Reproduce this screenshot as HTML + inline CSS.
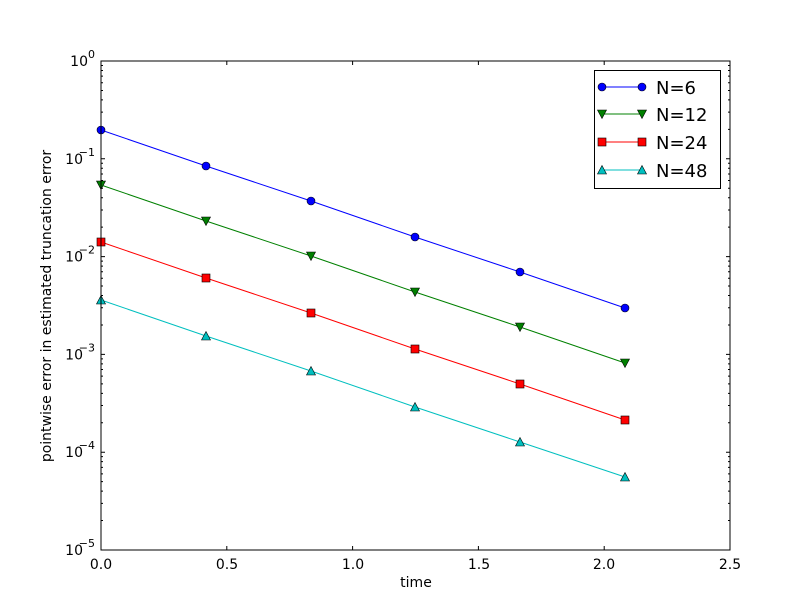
<!DOCTYPE html>
<html><head><meta charset="utf-8"><style>body{margin:0;background:#fff}svg{display:block}text{font-family:"DejaVu Sans","Liberation Sans",sans-serif;fill:#000}</style></head>
<body>
<svg id="s" width="812" height="612" viewBox="0 0 812 612" xmlns="http://www.w3.org/2000/svg">
<rect width="812" height="612" fill="#fff"/>
<g id="ticks" stroke="#000" stroke-width="1" fill="none"></g>
<g font-size="14" text-anchor="middle">
<text x="101" y="569">0.0</text><text x="227" y="569">0.5</text><text x="353" y="569">1.0</text><text x="479" y="569">1.5</text><text x="604" y="569">2.0</text><text x="730" y="569">2.5</text>
<text x="416" y="587">time</text>
</g>
<g font-size="14" id="ylab"></g>
<text font-size="14" transform="translate(51,306) rotate(-90)" text-anchor="middle">pointwise error in estimated truncation error</text>
<g fill="none" stroke-width="1">
<polyline stroke="#0000ff" points="101,130 206,166 311,201 415,237 520,272 625,308"/>
<polyline stroke="#008000" points="101,185 206,221 311,256 415,292 520,327 625,363"/>
<polyline stroke="#ff0000" points="101,242 206,278 311,313 415,349 520,384 625,420"/>
<polyline stroke="#00bfbf" points="101,300 206,336 311,371 415,407 520,442 625,477"/>
</g>
<g id="mk" stroke="#000" stroke-width="0.6"></g>
<rect x="101" y="61" width="629" height="489" fill="none" stroke="#000"/>
<rect x="594.5" y="70.5" width="126" height="118" fill="#fff" stroke="#000"/>
<g stroke-width="1"><line x1="602" y1="87" x2="642" y2="87" stroke="#0000ff"/><line x1="602" y1="114" x2="642" y2="114" stroke="#008000"/><line x1="602" y1="142" x2="642" y2="142" stroke="#ff0000"/><line x1="602" y1="170" x2="642" y2="170" stroke="#00bfbf"/></g>
<g id="lmk" stroke="#000" stroke-width="0.6"></g>
<g font-size="18"><text x="656" y="94">N=6</text><text x="656" y="121">N=12</text><text x="656" y="149">N=24</text><text x="656" y="177">N=48</text></g>
</svg>
<script>
var NS="http://www.w3.org/2000/svg";
function el(p,t,a,txt){var e=document.createElementNS(NS,t);for(var k in a)e.setAttribute(k,a[k]);if(txt!=null)e.textContent=txt;p.appendChild(e);return e;}
var T=document.getElementById('ticks'),d="";
var X0=101,X1=730,Y0=61,Y1=550,dec=(Y1-Y0)/5;
for(var i=0;i<=5;i++){var x=X0+i*(X1-X0)/5;d+="M"+x+" "+Y1+"v-4M"+x+" "+Y0+"v4";}
for(var i=0;i<=5;i++){var y=Y0+i*dec;d+="M"+X0+" "+y+"h4M"+X1+" "+y+"h-4";
 if(i<5)for(var k=2;k<=9;k++){var yy=Y0+(i+1)*dec-Math.log10(k)*dec;d+="M"+X0+" "+yy+"h2M"+X1+" "+yy+"h-2";}}
el(T,'path',{d:d});
var YL=document.getElementById('ylab');
for(var i=0;i<=5;i++){var y=Y0+i*dec+5;
 var ex=i==0?"0":"\u2212"+i;
 el(YL,'text',{x:95,y:y-8,'font-size':11,'text-anchor':'end'},ex);
 el(YL,'text',{x:i==0?88:83,y:y,'text-anchor':'end'},"10");}
var M=document.getElementById('mk');
var xs=[101,206,311,415,520,625];
var ser=[[[130,166,201,237,272,308],'c','#0000ff'],[[185,221,256,292,327,363],'v','#008000'],[[242,278,313,349,384,420],'s','#ff0000'],[[300,336,371,407,442,477],'^','#00bfbf']];
function mark(g,x,y,t,c){if(t=='c')el(g,'circle',{cx:x,cy:y,r:4,fill:c});
 else if(t=='s')el(g,'rect',{x:x-4,y:y-4,width:8,height:8,fill:c});
 else if(t=='v')el(g,'polygon',{points:(x-4.5)+","+(y-4)+" "+(x+4.5)+","+(y-4)+" "+x+","+(y+4.5),fill:c});
 else el(g,'polygon',{points:(x-4.5)+","+(y+4)+" "+(x+4.5)+","+(y+4)+" "+x+","+(y-4.5),fill:c});}
ser.forEach(function(s){s[0].forEach(function(y,j){mark(M,xs[j],y,s[1],s[2]);});});
var L=document.getElementById('lmk');var ly=[87,114,142,170];
ser.forEach(function(s,i){mark(L,602,ly[i],s[1],s[2]);mark(L,642,ly[i],s[1],s[2]);});
</script>
</body></html>
